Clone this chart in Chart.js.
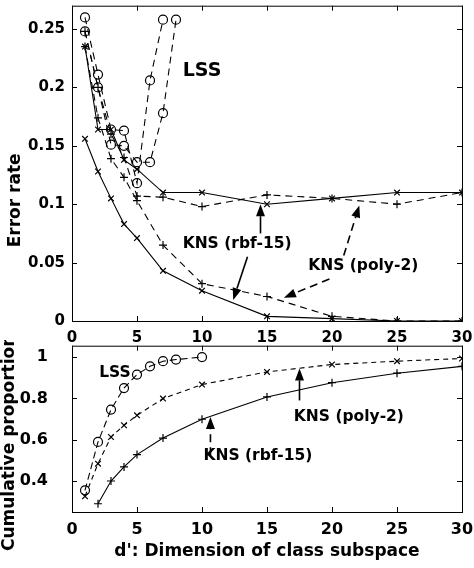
<!DOCTYPE html>
<html>
<head>
<meta charset="utf-8">
<script src="https://cdn.jsdelivr.net/npm/chart.js@4"></script>
<style>
  body { margin: 0; background: #fff; }
  canvas { position: absolute; left: 0; }
  #topChart { top: 0; }
  #bottomChart { top: 340px; }
</style>
</head>
<body>
<canvas id="topChart" width="474" height="360"></canvas>
<canvas id="bottomChart" width="474" height="228"></canvas>
<script>
// top panel: error rate vs d'
const dims = [1, 2, 3, 4, 5, 7, 10, 15, 20, 25, 30];
const lssDimsA = [1, 2, 3, 4, 5, 6, 7];
const lssErrA = [0.26, 0.211, 0.164, 0.163, 0.118, 0.206, 0.258];
const lssDimsB = [1, 2, 3, 4, 5, 6, 7, 8];
const lssErrB = [0.248, 0.2, 0.151, 0.15, 0.136, 0.136, 0.178, 0.258];
const rbfErrA = [0.235, 0.164, 0.164, 0.138, 0.13, 0.11, 0.11, 0.1, 0.105, 0.11, 0.11];
const rbfErrB = [0.156, 0.128, 0.105, 0.083, 0.071, 0.043, 0.026, 0.004, 0.002, 0, 0];
const polyErrA = [0.248, 0.2, 0.16, 0.14, 0.107, 0.106, 0.098, 0.108, 0.105, 0.1, 0.11];
const polyErrB = [0.235, 0.174, 0.139, 0.123, 0.103, 0.065, 0.032, 0.021, 0.004, 0, 0];

// bottom panel: cumulative proportion vs d'
const lssCumDims = [1, 2, 3, 4, 5, 6, 7, 8, 10];
const lssCum = [0.355, 0.589, 0.746, 0.85, 0.915, 0.955, 0.98, 0.988, 1.0];
const polyCumDims = [1, 2, 3, 4, 5, 7, 10, 15, 20, 25, 30];
const polyCum = [0.326, 0.484, 0.613, 0.67, 0.718, 0.799, 0.867, 0.928, 0.964, 0.98, 0.993];
const rbfCumDims = [2, 3, 4, 5, 7, 10, 15, 20, 25, 30];
const rbfCum = [0.29, 0.4, 0.468, 0.528, 0.608, 0.699, 0.807, 0.876, 0.922, 0.955];

const xTicks = [0, 5, 10, 15, 20, 25, 30];
const yTicksTop = [0, 0.05, 0.1, 0.15, 0.2, 0.25];
const yTicksBottom = [0.4, 0.6, 0.8, 1];

// annotations, in data coordinates
const topLabels = [
  { text: 'LSS', x: 10, y: 0.214, size: 19 },
  { text: 'KNS (rbf-15)', x: 12.7, y: 0.066 },
  { text: 'KNS (poly-2)', x: 22.4, y: 0.047 }
];
const topArrows = [
  { from: [14.5, 0.075], to: [14.5, 0.1], dash: false },
  { from: [13.5, 0.055], to: [12.4, 0.018], dash: false },
  { from: [20.9, 0.056], to: [22.1, 0.099], dash: true },
  { from: [19.8, 0.036], to: [16.3, 0.02], dash: true }
];
const bottomLabels = [
  { text: 'LSS', x: 3.3, y: 0.925 },
  { text: 'KNS (poly-2)', x: 21.3, y: 0.71 },
  { text: 'KNS (rbf-15)', x: 14.3, y: 0.52 }
];
const bottomArrows = [
  { from: [17.5, 0.79], to: [17.5, 0.945], dash: false },
  { from: [10.65, 0.525], to: [10.65, 0.71], dash: true }
];

Chart.defaults.font.family = "'DejaVu Sans', sans-serif";
Chart.defaults.font.weight = 'bold';
Chart.defaults.color = '#000';

const pts = (xs, ys) => xs.map((x, i) => ({ x: x, y: ys[i] }));

function series(data, style, dash) {
  return {
    data: data,
    showLine: true,
    borderColor: '#000',
    backgroundColor: style === 'circle' ? 'rgba(0,0,0,0)' : '#000',
    borderWidth: 1.1,
    borderDash: dash || [],
    pointStyle: style,
    pointRadius: style === 'circle' ? 4.5 : 4,
    pointBorderWidth: 1.2,
    pointBorderColor: '#000',
    pointBackgroundColor: 'rgba(0,0,0,0)'
  };
}

function drawArrow(ctx, x1, y1, x2, y2, dash) {
  const ang = Math.atan2(y2 - y1, x2 - x1);
  const L = 12, W = 4.5;
  const bx = x2 - L * Math.cos(ang), by = y2 - L * Math.sin(ang);
  ctx.lineWidth = 1.6;
  ctx.setLineDash(dash ? [8, 5] : []);
  ctx.beginPath();
  ctx.moveTo(x1, y1);
  ctx.lineTo(bx, by);
  ctx.stroke();
  ctx.setLineDash([]);
  ctx.beginPath();
  ctx.moveTo(x2, y2);
  ctx.lineTo(bx + W * Math.sin(ang), by - W * Math.cos(ang));
  ctx.lineTo(bx - W * Math.sin(ang), by + W * Math.cos(ang));
  ctx.closePath();
  ctx.fill();
}

// box with inward ticks on all four sides, notes and arrows, rotated y title
const decor = {
  id: 'decor',
  afterDraw(chart, args, opts) {
    const { ctx, chartArea: a, scales } = chart;
    const sx = scales.x, sy = scales.y;
    ctx.save();
    ctx.strokeStyle = '#000';
    ctx.fillStyle = '#000';
    ctx.lineWidth = 1;
    ctx.strokeRect(a.left + 0.5, a.top + 0.5, a.right - a.left, a.bottom - a.top);
    ctx.beginPath();
    sx.ticks.forEach(t => {
      const px = Math.round(sx.getPixelForValue(t.value)) + 0.5;
      ctx.moveTo(px, a.bottom); ctx.lineTo(px, a.bottom - 5);
      ctx.moveTo(px, a.top); ctx.lineTo(px, a.top + 5);
    });
    sy.ticks.forEach(t => {
      const py = Math.round(sy.getPixelForValue(t.value)) + 0.5;
      ctx.moveTo(a.left, py); ctx.lineTo(a.left + 5, py);
      ctx.moveTo(a.right, py); ctx.lineTo(a.right - 5, py);
    });
    ctx.stroke();

    ctx.textAlign = 'center';
    ctx.textBaseline = 'middle';
    opts.labels.forEach(l => {
      ctx.font = 'bold ' + (l.size || 15.5) + 'px "DejaVu Sans"';
      ctx.fillText(l.text, sx.getPixelForValue(l.x), sy.getPixelForValue(l.y));
    });
    opts.arrows.forEach(r => {
      drawArrow(ctx, sx.getPixelForValue(r.from[0]), sy.getPixelForValue(r.from[1]),
        sx.getPixelForValue(r.to[0]), sy.getPixelForValue(r.to[1]), r.dash);
    });

    ctx.font = 'bold 17px "DejaVu Sans"';
    ctx.translate(opts.titleX, (a.top + a.bottom) / 2 + opts.titleShift);
    ctx.rotate(-Math.PI / 2);
    ctx.fillText(opts.title, 0, 0);
    ctx.restore();
  }
};

// fixed axis sizes; drop the label overhang padding so the plot box stays put
function fixSize(prop, size) {
  return s => {
    s[prop] = size;
    s.paddingTop = 0; s.paddingBottom = 0;
    s.paddingLeft = 0; s.paddingRight = 0;
  };
}

function axes(yMin, yMax, yTicks, yPad, tickSize, xHeight, xTitle) {
  return {
    x: {
      type: 'linear', min: 0, max: 30,
      grid: { display: false, drawTicks: false },
      border: { display: false },
      afterBuildTicks: s => { s.ticks = xTicks.map(v => ({ value: v })); },
      afterFit: fixSize('height', xHeight),
      ticks: { padding: 8, maxRotation: 0, font: { size: tickSize, weight: 'bold' }, callback: v => String(v) },
      title: xTitle ? { display: true, text: xTitle, font: { size: 17, weight: 'bold' }, padding: { top: 0, bottom: 6 } } : { display: false }
    },
    y: {
      min: yMin, max: yMax,
      grid: { display: false, drawTicks: false },
      border: { display: false },
      afterBuildTicks: s => { s.ticks = yTicks.map(v => ({ value: v })); },
      afterFit: fixSize('width', 72),
      ticks: { padding: yPad, font: { size: tickSize, weight: 'bold' }, callback: v => String(v) }
    }
  };
}

new Chart(document.getElementById('topChart'), {
  type: 'scatter',
  data: {
    datasets: [
      series(pts(lssDimsA, lssErrA), 'circle', [7, 5]),
      series(pts(lssDimsB, lssErrB), 'circle', [7, 5]),
      series(pts(dims, rbfErrA), 'crossRot'),
      series(pts(dims, rbfErrB), 'crossRot'),
      series(pts(dims, polyErrA), 'cross', [7, 5]),
      series(pts(dims, polyErrB), 'cross', [7, 5])
    ]
  },
  options: {
    responsive: false,
    animation: false,
    devicePixelRatio: 1,
    layout: { padding: { top: 5, right: 12, left: 0, bottom: 0 } },
    plugins: {
      legend: { display: false },
      tooltip: { enabled: false },
      decor: { labels: topLabels, arrows: topArrows, title: 'Error rate', titleX: 16, titleShift: 37 }
    },
    scales: axes(0, 0.27, yTicksTop, 7, 15, 39, null)
  },
  plugins: [decor]
});

new Chart(document.getElementById('bottomChart'), {
  type: 'scatter',
  data: {
    datasets: [
      series(pts(lssCumDims, lssCum), 'circle', [7, 4]),
      series(pts(polyCumDims, polyCum), 'crossRot', [5, 4]),
      series(pts(rbfCumDims, rbfCum), 'cross')
    ]
  },
  options: {
    responsive: false,
    animation: false,
    devicePixelRatio: 1,
    layout: { padding: { top: 5, right: 12, left: 0, bottom: 0 } },
    plugins: {
      legend: { display: false },
      tooltip: { enabled: false },
      decor: { labels: bottomLabels, arrows: bottomArrows, title: 'Cumulative proportion', titleX: 10, titleShift: 14 }
    },
    scales: axes(0.25, 1.055, yTicksBottom, 24, 16, 56, "d': Dimension of class subspace")
  },
  plugins: [decor]
});
</script>
</body>
</html>
